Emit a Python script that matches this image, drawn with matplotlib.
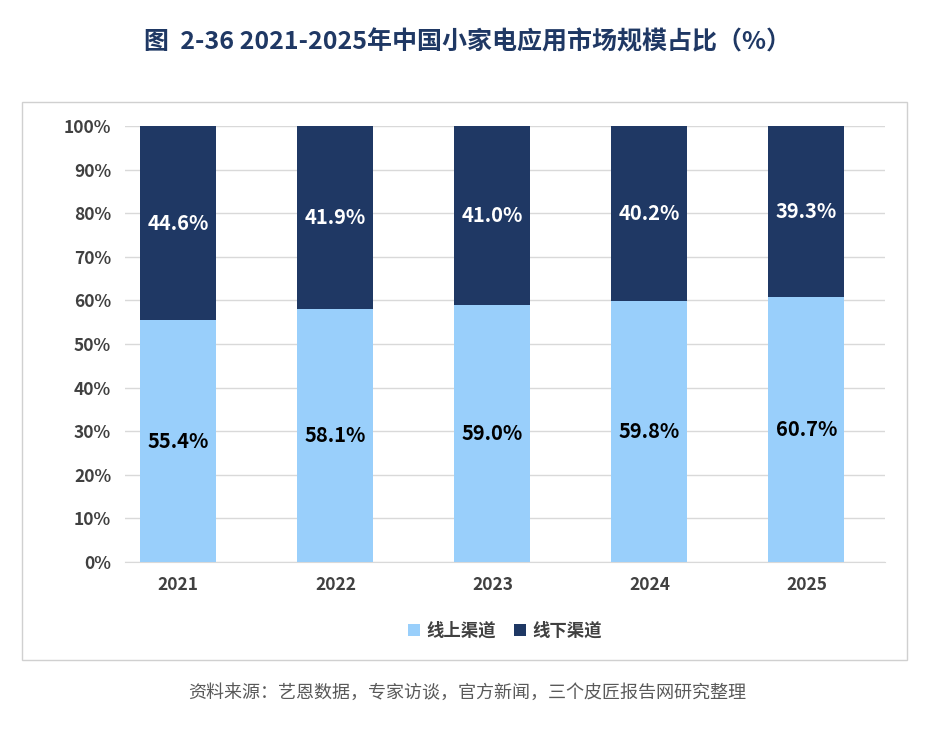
import matplotlib
matplotlib.use("Agg")
import matplotlib.pyplot as plt
from matplotlib.patches import Rectangle

plt.rcParams['font.family'] = ['Noto Sans CJK SC', 'DejaVu Sans']

years = ["2021", "2022", "2023", "2024", "2025"]
online = [55.4, 58.1, 59.0, 59.8, 60.7]
offline = [44.6, 41.9, 41.0, 40.2, 39.3]
series_names = ["线上渠道", "线下渠道"]
c_on, c_off = "#99CFFB", "#1F3864"

fig = plt.figure(figsize=(9.34, 7.33), dpi=100)
fig.patches.append(Rectangle((22/934, 1-660/733), 885/934, 558/733, transform=fig.transFigure,
                             fill=False, edgecolor="#D0D0D0", linewidth=1))
ax = fig.add_axes([125/934, 1-562/733, 760/934, 436/733])
x = list(range(len(years)))
w = 0.484
ax.bar(x, online, w, color=c_on, label=series_names[0], zorder=3)
ax.bar(x, offline, w, bottom=online, color=c_off, label=series_names[1], zorder=3)
for i in x:
    ax.text(i, online[i]/2, f"{online[i]:.1f}%", ha="center", va="center", fontsize=14.5, fontweight="bold", color="black", zorder=4)
    ax.text(i, online[i]+offline[i]/2, f"{offline[i]:.1f}%", ha="center", va="center", fontsize=14.5, fontweight="bold", color="white", zorder=4)
ax.set_xlim(-0.34, 4.5)
ax.set_ylim(0, 100)
ax.set_yticks(range(0, 101, 10))
ax.set_yticklabels([f"{v}%" for v in range(0, 101, 10)])
ax.set_xticks(x)
ax.set_xticklabels(years)
ax.grid(axis="y", color="#D9D9D9", linewidth=1, zorder=0)
for s in ["top", "right", "left"]:
    ax.spines[s].set_visible(False)
ax.spines["bottom"].set_color("#D9D9D9")
ax.tick_params(length=0, labelsize=12.5, colors="#404040", pad=10)
for t in ax.get_xticklabels() + ax.get_yticklabels():
    t.set_fontweight("bold")
leg = ax.legend(loc="center", bbox_to_anchor=(0.5, (562-631)/436), ncol=2, frameon=False,
                handlelength=0.7, handleheight=0.7, handletextpad=0.4, columnspacing=1.0,
                prop={'size': 12.5, 'weight': 'bold'})
for t in leg.get_texts():
    t.set_color("#404040")
fig.text(0.5, 1-42/733, "图  2-36 2021-2025年中国小家电应用市场规模占比（%）", ha="center", va="center",
         fontsize=18, fontweight="bold", color="#1F3864")
fig.text(0.5, 1-693/733, "资料来源：艺恩数据，专家访谈，官方新闻，三个皮匠报告网研究整理", ha="center", va="center",
         fontsize=13, color="#595959")
fig.savefig("out.png", dpi=100)
